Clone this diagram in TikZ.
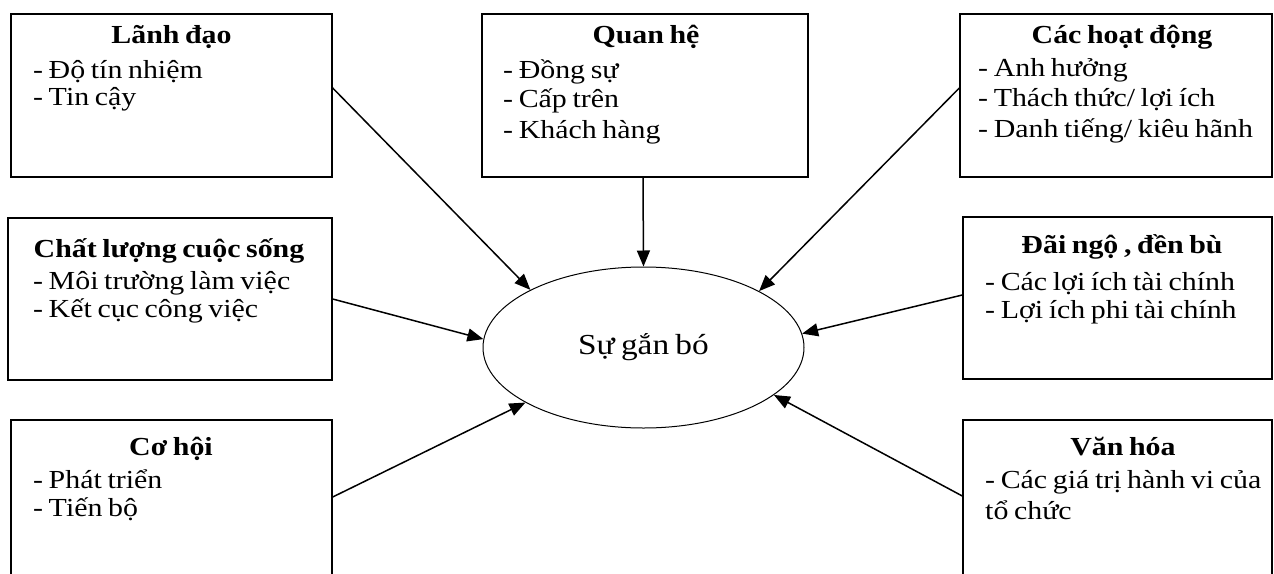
\documentclass[tikz,border=0pt]{standalone}
\usepackage{fontspec}
\setmainfont{Liberation Serif}[FakeStretch=1.15,WordSpace=0.75]
\usetikzlibrary{shapes.geometric,arrows.meta}
\tikzset{
  boxframe/.style={draw, line width=1.4pt, inner sep=0pt},
  ttl/.style={anchor=base, inner sep=0pt, font=\bfseries\fontsize{26}{28}\selectfont},
  bodytxt/.style={anchor=base west, inner sep=0pt, font=\fontsize{26}{28}\selectfont},
  conn/.style={line width=1.5pt, -{Triangle[length=16pt,width=13pt]}}
}
\begin{document}
\begin{tikzpicture}[x=1pt,y=-1pt]
\useasboundingbox (0,0) rectangle (1274,573);
\clip (0,0) rectangle (1274,573);
% boxes
\node[boxframe, minimum width=321pt, minimum height=163pt] (b1) at (171.5,95.5) {};
\node[boxframe, minimum width=326pt, minimum height=163pt] (b2) at (645,95.5) {};
\node[boxframe, minimum width=312pt, minimum height=163pt] (b3) at (1116,95.5) {};
\node[boxframe, minimum width=324pt, minimum height=162pt] (b4) at (170,299) {};
\node[boxframe, minimum width=309pt, minimum height=162pt] (b5) at (1117.5,298) {};
\node[boxframe, minimum width=321pt, minimum height=180pt] (b6) at (171.5,510) {};
\node[boxframe, minimum width=309pt, minimum height=180pt] (b7) at (1117.5,510) {};
% titles
\node[ttl] (t1) at (171.5,43) {Lãnh đạo};
\node[ttl] (t2) at (646,43) {Quan hệ};
\node[ttl] (t3) at (1122,43) {Các hoạt động};
\node[ttl] (t4) at (169,257) {Chất lượng cuộc sống};
\node[ttl] (t5) at (1122,253) {Đãi ngộ , đền bù};
\node[ttl] (t6) at (171,455) {Cơ hội};
\node[ttl] (t7) at (1123,455) {Văn hóa};
% bodies
\node[bodytxt] (l1) at (33,78) {\begin{tabular}[t]{@{}l@{}}- Độ tín nhiệm\\[-1pt]- Tin cậy\end{tabular}};
\node[bodytxt] (l2) at (503,78) {\begin{tabular}[t]{@{}l@{}}- Đồng sự\\[1pt]- Cấp trên\\[3pt]- Khách hàng\end{tabular}};
\node[bodytxt] (l3) at (978,76) {\begin{tabular}[t]{@{}l@{}}- Anh hưởng\\[2pt]- Thách thức/ lợi ích\\[3pt]- Danh tiếng/ kiêu hãnh\end{tabular}};
\node[bodytxt] (l4) at (33,289) {\begin{tabular}[t]{@{}l@{}}- Môi trường làm việc\\- Kết cục công việc\end{tabular}};
\node[bodytxt] (l5) at (985,290) {\begin{tabular}[t]{@{}l@{}}- Các lợi ích tài chính\\- Lợi ích phi tài chính\end{tabular}};
\node[bodytxt] (l6) at (33,488) {\begin{tabular}[t]{@{}l@{}}- Phát triển\\- Tiến bộ\end{tabular}};
\node[bodytxt] (l7) at (985,488) {\begin{tabular}[t]{@{}l@{}}- Các giá trị hành vi của\\[3pt]tổ chức\end{tabular}};
% center
\node[draw, ellipse, line width=1pt, minimum width=321pt, minimum height=161pt, inner sep=0pt,
      font=\fontsize{29}{34}\selectfont] (sg) at (643.5,347.5) {Sự gắn bó};
% connectors
\draw[conn] ([yshift=7.5pt]b1.east) -- (sg.153.6);
\draw[conn] ([xshift=-2pt]b2.south) -- (sg.north);
\draw[conn] ([yshift=7.5pt]b3.west) -- (sg.26.6);
\draw[conn] (b4.east) -- (sg.177.5);
\draw[conn] ([yshift=3pt]b5.west) -- (sg.5.3);
\draw[conn] ([yshift=13pt]b6.east) -- (sg.205.6);
\draw[conn] ([yshift=14pt]b7.west) -- (sg.-20.3);
\end{tikzpicture}
\end{document}
